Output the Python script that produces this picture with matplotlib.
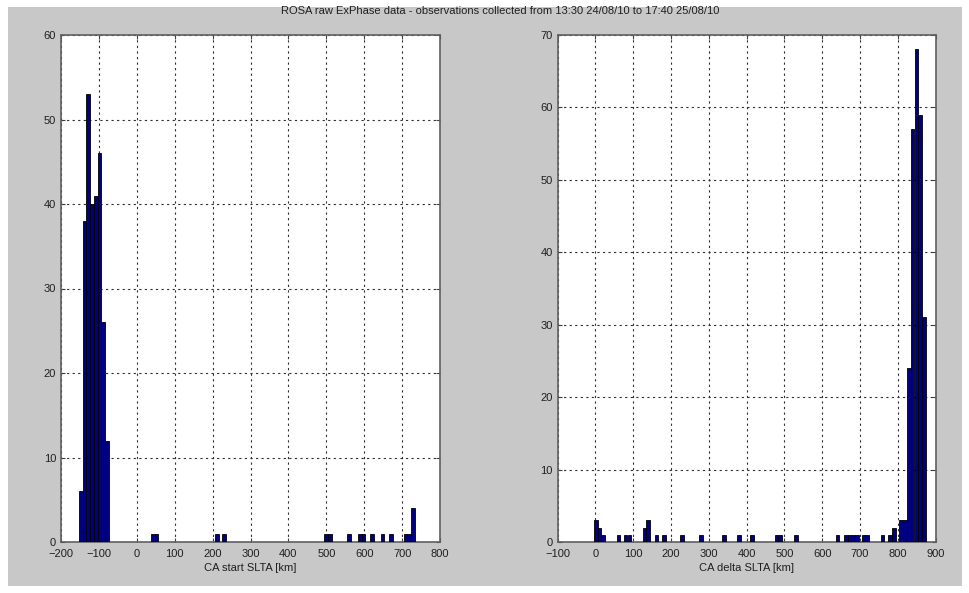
import matplotlib.pyplot as plt
from matplotlib.patches import Rectangle

# histogram bins (bin centre in km, count)
start_centers = [-147.7, -137.8, -128.0, -118.1, -108.2, -98.4, -88.5, -78.6,
                 42, 52, 211, 230, 499, 509, 560, 588, 598, 620, 648, 670,
                 709, 719, 729]
start_counts = [6, 38, 53, 40, 41, 46, 26, 12,
                1, 1, 1, 1, 1, 1, 1, 1, 1, 1, 1, 1,
                1, 1, 4]

delta_centers = [1, 11, 21, 61, 80, 90, 130, 140, 162, 181, 230, 279, 340,
                 380, 414, 479, 489, 530, 640, 662, 672, 682, 692, 709, 719,
                 759, 779, 789, 809, 819, 829, 839, 849, 859, 869]
delta_counts = [3, 2, 1, 1, 1, 1, 2, 3, 1, 1, 1, 1, 1,
                1, 1, 1, 1, 1, 1, 1, 1, 1, 1, 1, 1,
                1, 1, 2, 3, 3, 24, 57, 68, 59, 31]

start_width = 9.86
delta_width = 9.8

title = 'ROSA raw ExPhase data - observations collected from 13:30 24/08/10 to 17:40 25/08/10'

plt.rcParams['font.family'] = ['Liberation Sans', 'DejaVu Sans']
plt.rcParams['font.size'] = 8

W, H = 969, 593
fig = plt.figure(figsize=(W / 100, H / 100), dpi=100, facecolor='white')
# gray matlab-like figure background inside a thin white border
fig.patches.append(Rectangle((8 / W, 7 / H), (962 - 8) / W, (586 - 7) / H,
                             transform=fig.transFigure, facecolor='#c8c8c8',
                             edgecolor='none', zorder=-10))


def style_axes(ax, xlim, ylim, xlabel):
   ax.set_xlim(xlim)
   ax.set_ylim(ylim)
   ax.set_xticks(range(xlim[0], xlim[1] + 1, 100))
   ax.set_yticks(range(ylim[0], ylim[1] + 1, 10))
   ax.set_facecolor('white')
   ax.grid(True, color='#303030', linestyle=(0, (2, 3)), linewidth=0.8)
   ax.set_axisbelow(True)
   ax.tick_params(direction='in', length=3, top=True, right=True,
                  colors='#404040', labelcolor='#202020', labelsize=8)
   ax.tick_params(axis='x', pad=5)
   for s in ax.spines.values():
      s.set_color('#606060')
      s.set_linewidth(1.2)
   ax.set_xlabel(xlabel, fontsize=8, color='#202020', labelpad=3)


ax1 = fig.add_axes([61 / W, 1 - 542 / H, (440 - 61) / W, (542 - 35) / H])
ax1.bar(start_centers, start_counts, width=start_width, color='#000080',
        edgecolor='black', linewidth=0.6, zorder=3)
style_axes(ax1, (-200, 800), (0, 60), 'CA start SLTA [km]')

ax2 = fig.add_axes([557.5 / W, 1 - 542 / H, (935.7 - 557.5) / W, (542 - 35) / H])
ax2.bar(delta_centers, delta_counts, width=delta_width, color='#000080',
        edgecolor='black', linewidth=0.6, zorder=3)
style_axes(ax2, (-100, 900), (0, 70), 'CA delta SLTA [km]')

fig.text(500 / W, 1 - 11 / H, title, ha='center', va='center', fontsize=8,
         color='#202020')

plt.savefig('out.png', dpi=100, facecolor=fig.get_facecolor())
